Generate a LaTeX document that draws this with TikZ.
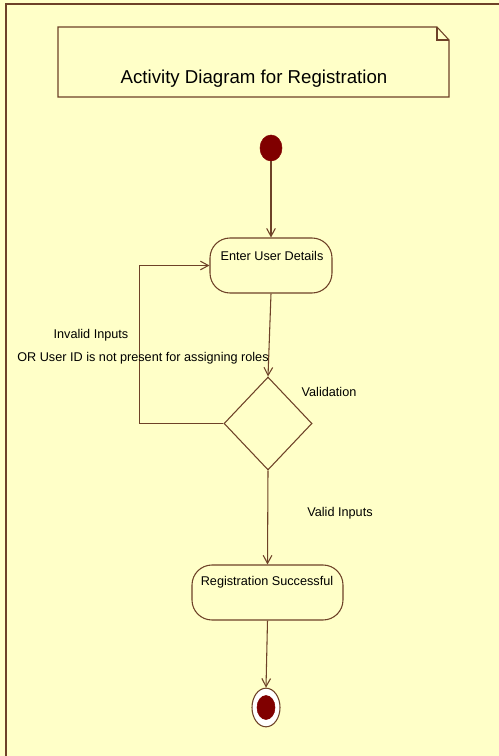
\documentclass[tikz,border=0pt]{standalone}
\usepackage{fontspec}
\setmainfont{Liberation Sans}
\usetikzlibrary{arrows.meta,shapes.geometric}
\definecolor{paper}{RGB}{255,255,200}
\definecolor{ink}{RGB}{110,66,40}
\definecolor{dot}{RGB}{128,0,0}
\begin{document}
\begin{tikzpicture}[x=0.75pt,y=-0.75pt,
  flow/.style={draw=ink, line width=0.8pt, -{Straight Barb[length=6pt,width=6.5pt]}},
  actbox/.style={draw=ink, line width=0.8pt, rounded corners=15pt, inner sep=0pt},
  decision/.style={draw=ink, line width=0.8pt, diamond, inner sep=0pt, minimum width=66pt, minimum height=69.75pt},
  lbl/.style={font=\fontsize{9.5pt}{11pt}\selectfont, inner sep=0pt, text=black},
  initial/.style={ellipse, fill=dot, draw=dot, inner sep=0pt, minimum width=16.5pt, minimum height=19.5pt},
  final/.style={ellipse, fill=white, draw=ink, line width=0.8pt, inner sep=0pt, minimum width=21pt, minimum height=29pt},
  finalcore/.style={ellipse, fill=dot, draw=dot, inner sep=0pt, minimum width=13.5pt, minimum height=18pt}]
% page and frame
\fill[paper] (0,0) rectangle (499,756);
\useasboundingbox (0,0) rectangle (499,756);
\draw[ink, line width=1.1pt] (499,4) -- (6,4) -- (6,756);

% title note with folded corner
\draw[ink, line width=0.8pt, fill=paper] (58,27) -- (437,27) -- (449,40) -- (449,97) -- (58,97) -- cycle;
\draw[ink, line width=0.8pt] (437,27) -- (437,40) -- (449,40);
\node[font=\fontsize{14pt}{16pt}\selectfont, inner sep=0pt] (title) at (254,79) {Activity Diagram for Registration};

% activity nodes
\node[initial] (start) at (271,148) {};
\node[actbox, minimum width=91.5pt, minimum height=41.25pt] (enter) at (271,265.5) {};
\node[lbl] (enterlbl) at (272,256) {Enter User Details};
\node[decision] (check) at (268,423.5) {};
\node[actbox, minimum width=113.25pt, minimum height=41.25pt] (done) at (267.5,592.5) {};
\node[lbl] (donelbl) at (267,582) {Registration Successful};
\node[final] (stop) at (266,707.5) {};
\node[finalcore] (stopcore) at (266,707.5) {};

% transitions
\draw[flow] (start) -- (enter.north);
\draw[flow] (enter.south) -- (check.north);
\draw[flow] (check.west) -- ++(-84,0) coordinate (loopcorner) |- (enter.west);
\draw[flow] (check.south) -- (done.north);
\draw[flow] (done.south) -- (stop.north);

% guard labels
\node[lbl] (invalid) at (91,335) {Invalid Inputs};
\node[lbl] (invalid2) at (143,358) {OR User ID is not present for assigning roles};
\node[lbl] (validation) at (329,392) {Validation};
\node[lbl] (valid) at (340,513) {Valid Inputs};
\end{tikzpicture}
\end{document}
